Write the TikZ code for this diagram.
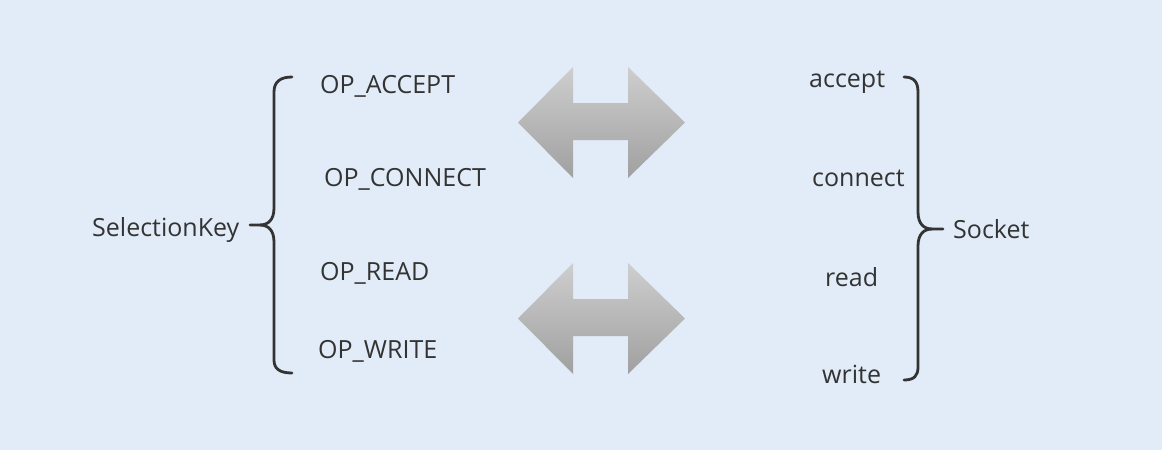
\documentclass[tikz,border=0pt]{standalone}
\usepackage{fontspec}
\setmainfont{Open Sans}
\definecolor{bgcol}{RGB}{226,236,248}
\definecolor{txtcol}{RGB}{51,51,51}
\definecolor{bracecol}{RGB}{51,51,51}
\definecolor{arrtop}{RGB}{206,206,206}
\definecolor{arrbot}{RGB}{160,160,160}
\begin{document}
\begin{tikzpicture}[x=1pt,y=-1pt,
  lbl/.style={inner sep=0pt,text=txtcol,font=\fontsize{25}{28}\selectfont},
  bracepath/.style={draw=bracecol,line width=2.8pt,line cap=round,line join=round},
  dblarrow/.style={top color=arrtop,bottom color=arrbot,draw=none}]
\fill[bgcol] (0,0) rectangle (1162,450);
\useasboundingbox (0,0) rectangle (1162,450);
% left texts
\node[lbl,anchor=base west] (sk) at (92,236) {SelectionKey};
\node[lbl,anchor=base west] (opa) at (320,93) {OP\_ACCEPT};
\node[lbl,anchor=base west] (opc) at (324,186) {OP\_CONNECT};
\node[lbl,anchor=base west] (opr) at (320,280) {OP\_READ};
\node[lbl,anchor=base west] (opw) at (318,358) {OP\_WRITE};
% right texts
\node[lbl,anchor=base west] (acc) at (809,87) {accept};
\node[lbl,anchor=base west] (con) at (812,186) {connect};
\node[lbl,anchor=base west] (rd) at (825,286) {read};
\node[lbl,anchor=base west] (wr) at (822,383) {write};
\node[lbl,anchor=base west] (sock) at (953,238) {Socket};
% left brace
\draw[bracepath] (292,77) .. controls (280,77) and (274,82) .. (274,92)
  -- (274,208) .. controls (274,220) and (268,225) .. (260,225) -- (250,225);
\draw[bracepath] (260,225) .. controls (268,225) and (274,230) .. (274,242)
  -- (274,360) .. controls (274,369) and (280,373) .. (292,373);
% right brace
\draw[bracepath] (904,77) .. controls (914,77) and (918,82) .. (918,92)
  -- (918,212) .. controls (918,224) and (924,229) .. (932,229) -- (943,229);
\draw[bracepath] (932,229) .. controls (924,229) and (918,234) .. (918,246)
  -- (918,367) .. controls (918,376) and (914,380) .. (904,380);
% double arrows
\path[dblarrow] (518,122.5) -- (573,67) -- (573,103) -- (628,103) -- (628,67)
  -- (685,122.5) -- (628,178) -- (628,140) -- (573,140) -- (573,178) -- cycle;
\path[dblarrow] (518,318.5) -- (573,263) -- (573,299) -- (628,299) -- (628,263)
  -- (685,318.5) -- (628,374) -- (628,336) -- (573,336) -- (573,374) -- cycle;
\end{tikzpicture}
\end{document}
